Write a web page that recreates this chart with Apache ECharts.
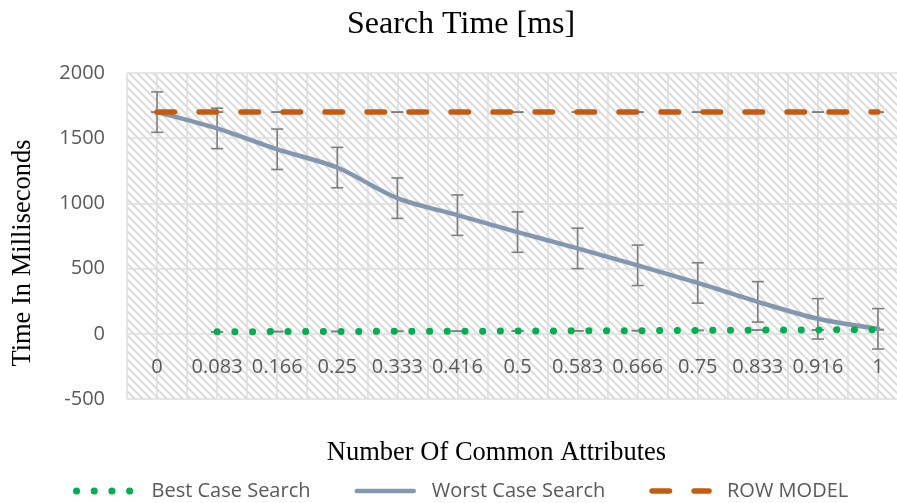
<!DOCTYPE html>
<html>
<head>
<meta charset="utf-8">
<script src="https://cdn.jsdelivr.net/npm/echarts@6/dist/echarts.min.js"></script>
<style>
  html, body { margin: 0; padding: 0; background: #fff; }
  #chart { width: 897px; height: 503px; }
</style>
</head>
<body>
<div id="chart"></div>
<script>
// values
const categories = ['0', '0.083', '0.166', '0.25', '0.333', '0.416', '0.5', '0.583', '0.666', '0.75', '0.833', '0.916', '1'];
const bestCase  = [null, 15, 17, 18, 19, 20, 21, 23, 24, 26, 28, 30, 32];
const worstCase = [1700, 1575, 1415, 1275, 1040, 910, 780, 655, 525, 390, 245, 115, 38];
const worstErr  = [155, 155, 155, 155, 155, 155, 155, 155, 155, 155, 155, 155, 155];
const rowModel  = [1700, 1700, 1700, 1700, 1700, 1700, 1700, 1700, 1700, 1700, 1700, 1700, 1700];
const yMin = -500, yMax = 2000, yStep = 500;

const labelFont = '"Open Sans", sans-serif';
const serifFont = '"Liberation Serif", "Times New Roman", serif';
const grey = '#595959';

// excel style diagonal hatch for the plot area
const makeHatch = () => {
  const c = document.createElement('canvas');
  c.width = 8; c.height = 8;
  const ctx = c.getContext('2d');
  ctx.fillStyle = '#ffffff';
  ctx.fillRect(0, 0, 8, 8);
  ctx.strokeStyle = '#dcdcdc';
  ctx.lineWidth = 2;
  ctx.beginPath();
  ctx.moveTo(-1, -1); ctx.lineTo(9, 9);
  ctx.moveTo(-5, 3); ctx.lineTo(5, 13);
  ctx.moveTo(3, -5); ctx.lineTo(13, 5);
  ctx.stroke();
  return c;
};

const errorBar = (params, api) => {
  const v = api.value(1);
  if (v == null || isNaN(v)) return null;
  const i = api.value(0), e = api.value(2);
  const top = api.coord([i, v + e]);
  const bot = api.coord([i, v - e]);
  const hw = 6;
  const style = { stroke: '#7f7f7f', lineWidth: 1.6 };
  return {
    type: 'group',
    children: [
      { type: 'line', shape: { x1: top[0], y1: top[1], x2: bot[0], y2: bot[1] }, style: style },
      { type: 'line', shape: { x1: top[0] - hw, y1: top[1], x2: top[0] + hw, y2: top[1] }, style: style },
      { type: 'line', shape: { x1: bot[0] - hw, y1: bot[1], x2: bot[0] + hw, y2: bot[1] }, style: style }
    ]
  };
};

const errData = (vals, errs) => vals.map((v, i) => [i, v, errs ? errs[i] : 0]).filter(d => d[1] != null);

const getOption = () => {
  return {
    backgroundColor: '#ffffff',
    animation: false,
    title: {
      text: 'Search Time [ms]',
      left: 347,
      top: 9,
      padding: 0,
      textStyle: { fontFamily: serifFont, fontWeight: 'normal', fontSize: 32, color: '#000' }
    },
    legend: {
      left: 68,
      top: 476,
      itemWidth: 57,
      itemHeight: 14,
      itemGap: 44,
      data: ['Best Case Search', 'Worst Case Search', 'ROW MODEL'],
      itemStyle: { color: 'transparent', borderWidth: 0 },
      lineStyle: { width: 'inherit' },
      textStyle: { fontFamily: labelFont, fontSize: 20, color: grey, padding: [0, 0, 0, 13] }
    },
    grid: {
      left: 127, right: -11, top: 73, bottom: 104,
      outerBoundsMode: 'none',
      containLabel: false,
      show: true,
      borderWidth: 0,
      backgroundColor: { image: makeHatch(), repeat: 'repeat' }
    },
    xAxis: [
      {
        type: 'category',
        data: categories,
        name: 'Number Of Common Attributes',
        nameLocation: 'middle',
        nameGap: 41,
        nameTextStyle: { fontFamily: serifFont, fontSize: 26.5, color: '#000', padding: [0, 42, 0, 0] },
        // labels sit beside the zero line, like the source
        axisLine: { show: false, onZero: false },
        axisTick: { show: false },
        axisLabel: { margin: -42, fontFamily: labelFont, fontSize: 20, color: grey, interval: 0 },
        splitLine: { show: false }
      },
      {
        // half-category grid lines
        type: 'category',
        data: new Array(26).fill(''),
        position: 'bottom',
        axisLine: { show: false, onZero: false },
        axisTick: { show: false },
        axisLabel: { show: false },
        splitLine: { show: true, interval: 0, lineStyle: { color: '#dedede', width: 1.5 } }
      }
    ],
    yAxis: {
      type: 'value',
      min: yMin, max: yMax, interval: yStep,
      name: 'Time In Milliseconds',
      nameLocation: 'middle',
      nameGap: 90,
      nameTextStyle: { fontFamily: serifFont, fontSize: 26.5, color: '#000', padding: [0, 34, 0, 0] },
      axisLine: { show: false },
      axisTick: { show: false },
      axisLabel: { margin: 22, fontFamily: labelFont, fontSize: 20, color: grey, formatter: v => String(v) },
      splitLine: { lineStyle: { color: '#dedede', width: 1.5 } }
    },
    series: [
      {
        name: 'worst err', type: 'custom', renderItem: errorBar, z: 1,
        encode: { x: 0, y: 1 }, data: errData(worstCase, worstErr)
      },
      {
        name: 'row err', type: 'custom', renderItem: errorBar, z: 1,
        encode: { x: 0, y: 1 }, data: errData(rowModel)
      },
      {
        name: 'best err', type: 'custom', renderItem: errorBar, z: 1,
        encode: { x: 0, y: 1 }, data: errData(bestCase)
      },
      {
        name: 'Worst Case Search',
        type: 'line',
        data: worstCase,
        smooth: 0.3,
        symbol: 'none',
        z: 3,
        itemStyle: { color: '#8497b0' },
        lineStyle: { color: '#8497b0', width: 4.5, cap: 'round' }
      },
      {
        name: 'Best Case Search',
        type: 'line',
        data: bestCase,
        symbol: 'none',
        z: 4,
        itemStyle: { color: '#00b050' },
        lineStyle: { color: '#00b050', width: 7, type: [0.1, 17.6], cap: 'round' }
      },
      {
        name: 'ROW MODEL',
        type: 'line',
        data: rowModel,
        symbol: 'none',
        z: 5,
        itemStyle: { color: '#c55a11' },
        lineStyle: { color: '#c55a11', width: 5.5, type: [17.5, 24.5], cap: 'round' }
      }
    ]
  };
};

const initChart = () => {
  const chart = echarts.init(document.getElementById('chart'));
  chart.setOption(getOption());
};

window.addEventListener('load', () => {
  initChart();
});
</script>
</body>
</html>
